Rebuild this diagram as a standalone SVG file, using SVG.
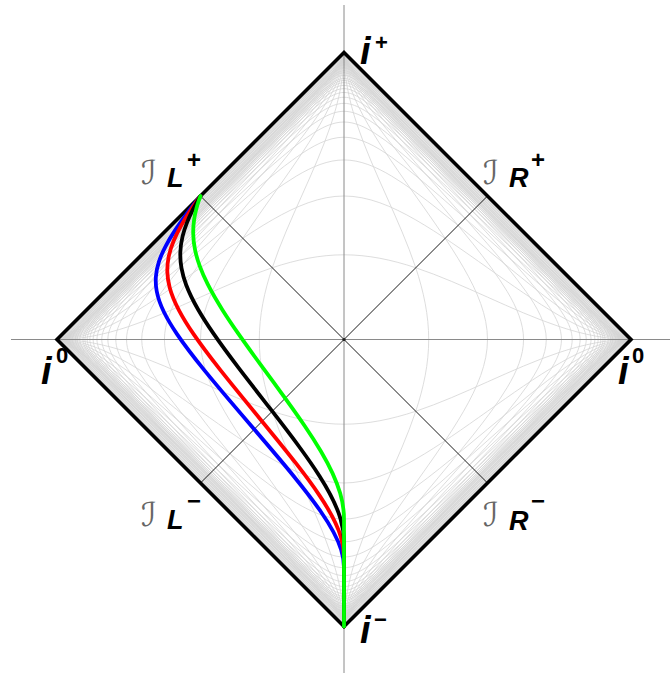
<svg xmlns="http://www.w3.org/2000/svg" xmlns:xlink="http://www.w3.org/1999/xlink" width="670" height="677" viewBox="0 0 670 677">
<style>
.axis{stroke:#8a8a8a;stroke-width:1;fill:none}
.diag{stroke:#1a1a1a;stroke-width:1;fill:none}
.frame{fill:none;stroke:#000;stroke-width:3.6;stroke-linejoin:miter}
.traj{fill:none;stroke-width:3.8;stroke-linecap:round;stroke-linejoin:round}
.lab{font-family:"Liberation Sans",Arial,sans-serif;font-weight:bold;font-style:italic;fill:#000}
.sup{font-family:"Liberation Sans",Arial,sans-serif;font-weight:bold;fill:#000}
.scri{font-family:"DejaVu Serif","DejaVu Sans",serif;font-style:italic;fill:#666}
</style>
<defs>
<g id="tq" fill="none" stroke="#d4d4d4" stroke-width="0.8">
<path d="M344,254.79 C367.92,254.79 391.83,259.78 415.75,267.75 C439.67,275.72 463.58,286.44 487.5,297.14 C511.42,307.84 535.33,318.57 559.25,326.54 C583.17,334.51 607.08,339.5 631,339.5"/>
<path d="M344,196 C367.92,196 391.83,206.11 415.75,219.92 C439.67,233.73 463.58,250.84 487.5,267.75 C511.42,284.66 535.33,301.77 559.25,315.58 C583.17,329.39 607.08,339.5 631,339.5"/>
<path d="M344,159.94 C359.94,159.94 375.89,166.64 391.83,176.21 C407.78,185.78 423.72,197.90 439.67,210.53 C455.61,223.16 471.56,236.45 487.5,249.72 C503.44,262.99 519.39,276.28 535.33,288.91 C551.28,301.54 567.22,313.65 583.17,323.22 C599.11,332.79 615.06,339.5 631,339.5"/>
<path d="M344,137.21 C359.94,137.21 375.89,146.14 391.83,157.41 C407.78,168.68 423.72,182.19 439.67,196 C455.61,209.81 471.56,224.10 487.5,238.36 C503.44,252.62 519.39,266.90 535.33,280.71 C551.28,294.52 567.22,308.04 583.17,319.31 C599.11,330.58 615.06,339.5 631,339.5"/>
<path d="M344,122.02 C354.63,122.02 365.26,126.99 375.89,133.90 C389.18,142.54 402.46,153.75 415.75,165.32 C439.67,186.14 463.58,208.55 487.5,230.76 C511.42,252.97 535.33,275.37 559.25,296.19 C572.54,307.76 585.82,318.99 599.11,327.62 C609.74,334.53 620.37,339.5 631,339.5"/>
<path d="M344,111.29 C351.97,111.29 359.95,114.62 367.92,119.51 C381.21,127.66 394.49,139.27 407.78,151.07 C434.35,174.66 460.93,200.18 487.5,225.39 C514.07,250.60 540.65,276.12 567.22,299.71 C580.51,311.51 593.79,323.11 607.08,331.26 C615.05,336.15 623.03,339.5 631,339.5"/>
<path d="M344,103.35 C350.91,103.35 357.82,106.29 364.73,110.56 C376.42,117.79 388.12,128.11 399.81,138.58 C429.04,164.74 458.27,193.31 487.5,221.42 C516.73,249.53 545.96,278.11 575.19,304.27 C586.88,314.74 598.58,325.06 610.27,332.29 C617.18,336.56 624.09,339.5 631,339.5"/>
<path d="M344,97.26 C350.38,97.26 356.75,100.13 363.13,104.21 C373.76,111.01 384.39,120.51 395.02,130.12 C425.85,158.0 456.67,188.47 487.5,218.38 C518.33,248.29 549.15,278.77 579.98,306.65 C590.61,316.26 601.24,325.76 611.87,332.56 C618.25,336.64 624.62,339.5 631,339.5"/>
<path d="M344,92.46 C349.85,92.46 355.69,95.15 361.54,98.96 C371.64,105.54 381.73,114.70 391.83,123.93 C423.72,153.07 455.61,184.85 487.5,215.98 C519.39,247.11 551.28,278.89 583.17,308.03 C593.27,317.26 603.36,326.41 613.46,332.99 C619.31,336.80 625.15,339.5 631,339.5"/>
<path d="M344,88.57 C349.32,88.57 354.63,91.06 359.94,94.54 C368.98,100.46 378.02,108.64 387.05,116.91 C420.53,147.55 454.02,181.20 487.5,214.03 C520.98,246.86 554.47,280.52 587.95,311.16 C596.99,319.43 606.03,327.61 615.06,333.53 C620.38,337.01 625.69,339.5 631,339.5"/>
<path d="M344,85.36 C349.48,85.36 354.95,88.29 360.43,92.17 C371.38,99.91 382.34,110.49 393.29,120.89 C424.69,150.68 456.10,181.53 487.5,212.43 C518.90,243.33 550.31,274.18 581.71,303.97 C592.66,314.37 603.62,324.95 614.57,332.69 C620.05,336.57 625.52,339.5 631,339.5"/>
<path d="M344,82.67 C349.03,82.67 354.06,85.37 359.09,88.92 C369.15,96.04 379.20,105.75 389.26,115.30 C422.01,146.37 454.75,178.79 487.5,211.09 C520.25,243.39 552.99,275.81 585.74,306.88 C595.80,316.42 605.86,326.14 615.91,333.25 C620.94,336.81 625.97,339.5 631,339.5"/>
<path d="M344,80.39 C348.65,80.39 353.30,82.88 357.95,86.17 C367.24,92.74 376.54,101.72 385.84,110.54 C419.72,142.69 453.61,176.45 487.5,209.95 C521.39,243.44 555.28,277.20 589.17,309.35 C598.46,318.17 607.76,327.15 617.06,333.72 C621.70,337.01 626.35,339.5 631,339.5"/>
<path d="M344,78.43 C348.32,78.43 352.64,80.74 356.96,83.80 C365.61,89.91 374.25,98.26 382.89,106.46 C417.76,139.54 452.63,174.44 487.5,208.96 C522.37,243.48 557.24,278.39 592.11,311.47 C600.75,319.67 609.40,328.02 618.04,334.13 C622.36,337.19 626.68,339.5 631,339.5"/>
<path d="M344,75.22 C347.79,75.22 351.57,77.25 355.36,79.93 C362.94,85.28 370.51,92.60 378.08,99.79 C414.56,134.39 451.03,171.17 487.5,207.36 C523.97,243.55 560.45,280.33 596.92,314.93 C604.49,322.12 612.07,329.44 619.64,334.79 C623.43,337.47 627.21,339.5 631,339.5"/>
<path d="M344,72.72 C347.37,72.72 350.74,74.52 354.11,76.91 C360.85,81.67 367.59,88.18 374.33,94.58 C412.05,130.37 449.78,168.62 487.5,206.11 C525.22,243.60 562.95,281.85 600.67,317.64 C607.41,324.04 614.15,330.55 620.89,335.31 C624.26,337.70 627.63,339.5 631,339.5"/>
<path d="M344,70.71 C347.04,70.71 350.07,72.34 353.11,74.48 C359.18,78.78 365.25,84.64 371.32,90.40 C410.05,127.14 448.77,166.57 487.5,205.11 C526.23,243.64 564.96,283.07 603.68,319.81 C609.75,325.57 615.82,331.44 621.89,335.73 C624.93,337.88 627.97,339.5 631,339.5"/>
<path d="M344,67.69 C346.53,67.69 349.06,69.05 351.60,70.84 C356.66,74.42 361.72,79.31 366.79,84.12 C407.03,122.29 447.26,163.50 487.5,203.60 C527.74,243.69 567.98,284.90 608.21,323.08 C613.28,327.88 618.34,332.77 623.40,336.35 C625.94,338.14 628.47,339.5 631,339.5"/>
<path d="M344,64.66 C346.03,64.66 348.05,65.75 350.08,67.18 C354.14,70.05 358.19,73.97 362.24,77.81 C403.99,117.42 445.75,160.42 487.5,202.08 C529.25,243.74 571.01,286.74 612.76,326.35 C616.81,330.20 620.87,334.12 624.92,336.98 C626.95,338.42 628.97,339.5 631,339.5"/>
<path d="M344,61.63 C345.52,61.63 347.04,62.44 348.56,63.52 C351.61,65.67 354.65,68.61 357.69,71.49 C400.96,112.54 444.23,157.35 487.5,200.56 C530.77,243.78 574.04,288.58 617.31,329.63 C620.35,332.52 623.40,335.46 626.44,337.61 C627.96,338.69 629.48,339.5 631,339.5"/>
<path d="M344,58.59 C345.02,58.59 346.03,59.13 347.04,59.85 C349.07,61.28 351.10,63.25 353.13,65.17 C397.92,107.66 442.71,154.28 487.5,199.04 C532.29,243.81 577.08,290.43 621.87,332.92 C623.90,334.84 625.93,336.80 627.96,338.24 C628.97,338.96 629.99,339.5 631,339.5"/>
</g>
<g id="tf">
<use xlink:href="#tq" href="#tq"/>
<use xlink:href="#tq" href="#tq" transform="matrix(-1 0 0 1 688 0)"/>
<use xlink:href="#tq" href="#tq" transform="matrix(1 0 0 -1 0 679)"/>
<use xlink:href="#tq" href="#tq" transform="matrix(-1 0 0 -1 688 679)"/>
</g>
</defs>
<rect width="670" height="677" fill="#fff"/>
<g id="grid">
<use xlink:href="#tf" href="#tf"/>
<use xlink:href="#tf" href="#tf" transform="matrix(0 -1 -1 0 683.5 683.5)"/>
</g>
<g id="axes">
<path class="axis" d="M11,339.5 H670 M344,5 V673"/>
<path class="diag" d="M200.5,196 L487.5,483 M487.5,196 L200.5,483"/>
<circle cx="344" cy="339.5" r="1.6" fill="#222"/>
</g>
<g id="frame">
<polygon class="frame" points="344,52.5 631,339.5 344,626.5 57,339.5"/>
</g>
<g id="worldlines">
<path class="traj" stroke="#0000ff" d="M344,626.5 L344,567.71 C344,563.14 343.62,557.74 341.15,549.76 C338.68,541.78 335.19,532.30 320.56,511.25 C314.71,502.83 306.75,492.24 295.15,477.93 C283.55,463.62 267.70,444.97 250.74,425.20 C233.78,405.43 216.96,385.75 204.47,370.35 C191.98,354.95 183.27,343.33 177.02,334.09 C170.77,324.85 166.82,317.90 163.93,311.98 C159.60,303.11 157.72,296.59 156.69,291.0 C155.66,285.41 155.58,280.79 155.89,276.62 C156.30,271.07 157.44,266.35 158.80,262.08 C160.85,255.68 163.43,250.32 165.95,245.57 C169.31,239.23 172.61,234.04 175.52,229.65 C179.88,223.07 183.37,218.30 186.12,214.59 C190.70,208.41 193.30,205.11 195.09,202.83 L200.5,196"/>
<path class="traj" stroke="#ff0000" d="M344,626.5 L344,556.98 C344,551.73 343.52,545.52 340.80,536.61 C338.08,527.70 333.82,516.79 319.61,495.58 C313.92,487.10 306.40,476.73 296.27,463.70 C286.14,450.67 273.10,434.72 259.28,417.92 C245.46,401.12 231.41,384.02 220.07,369.65 C208.73,355.28 199.98,343.51 193.43,333.92 C186.88,324.33 182.37,316.77 178.99,310.35 C173.92,300.73 171.28,293.60 169.66,287.53 C168.04,281.46 167.49,276.53 167.34,272.13 C167.14,266.26 167.75,261.41 168.61,257.09 C169.91,250.61 171.81,245.35 173.70,240.79 C176.22,234.71 178.76,229.90 181.01,225.88 C184.38,219.85 187.11,215.60 189.25,212.31 C192.82,206.83 194.85,203.96 196.25,201.96 L200.5,196"/>
<path class="traj" stroke="#000000" d="M344,626.5 L344,541.79 C344,535.70 343.43,528.48 340.48,518.61 C337.53,508.74 332.51,496.51 319.44,475.97 C314.21,467.75 307.55,458.12 299.22,446.75 C290.89,435.38 280.77,422.20 270.04,408.42 C259.31,394.64 248.17,380.45 238.42,367.67 C228.67,354.89 220.36,343.56 213.73,333.95 C207.10,324.34 202.05,316.37 198.10,309.51 C192.18,299.22 188.59,291.38 186.12,284.78 C183.65,278.18 182.33,272.86 181.49,268.18 C180.37,261.94 180.18,256.91 180.32,252.51 C180.53,245.92 181.50,240.77 182.56,236.39 C183.98,230.55 185.61,226.09 187.07,222.41 C189.27,216.89 191.14,213.13 192.61,210.22 C195.06,205.37 196.50,202.88 197.49,201.15 L200.5,196"/>
<path class="traj" stroke="#00ff00" d="M344,626.5 L344,519.06 C344,512.03 343.24,503.90 340.19,493.33 C337.14,482.76 331.83,469.76 320.88,451.24 C316.50,443.83 311.20,435.49 304.92,426.23 C298.64,416.97 291.36,406.75 283.62,396.10 C275.88,385.45 267.73,374.41 260.02,363.88 C252.31,353.35 245.11,343.36 238.85,334.39 C232.59,325.42 227.24,317.43 222.78,310.40 C216.09,299.85 211.32,291.37 207.70,284.21 C204.08,277.05 201.63,271.23 199.77,266.17 C197.29,259.43 195.89,254.07 194.97,249.48 C193.59,242.60 193.25,237.43 193.20,233.11 C193.13,227.35 193.60,223.13 194.10,219.69 C194.85,214.53 195.71,211.13 196.40,208.52 C197.56,204.17 198.34,202.01 198.86,200.49 L200.5,196"/>
</g>
<g id="labels">
<g id="label-iplus"><text class="lab" x="360" y="64" font-size="38">i</text><text class="sup" x="375" y="50" font-size="22">+</text></g>
<g id="label-i0-left"><text class="lab" x="41" y="384" font-size="38">i</text><text class="sup" x="56" y="363" font-size="22">0</text></g>
<g id="label-i0-right"><text class="lab" x="618" y="384" font-size="38">i</text><text class="sup" x="632" y="363" font-size="22">0</text></g>
<g id="label-iminus"><text class="lab" x="360" y="643" font-size="38">i</text><text class="sup" x="374" y="627" font-size="22">−</text></g>
<g id="label-scri-Lplus"><text class="scri" x="141" y="184" font-size="33">ℐ</text><text class="lab" x="167" y="187" font-size="27">L</text><text class="sup" x="187" y="168" font-size="24">+</text></g>
<g id="label-scri-Rplus"><text class="scri" x="483" y="184" font-size="33">ℐ</text><text class="lab" x="509" y="187" font-size="27">R</text><text class="sup" x="531" y="168" font-size="24">+</text></g>
<g id="label-scri-Lminus"><text class="scri" x="141" y="526" font-size="33">ℐ</text><text class="lab" x="167" y="529" font-size="27">L</text><text class="sup" x="187" y="509" font-size="24">−</text></g>
<g id="label-scri-Rminus"><text class="scri" x="483" y="526" font-size="33">ℐ</text><text class="lab" x="509" y="530" font-size="27">R</text><text class="sup" x="531" y="509" font-size="24">−</text></g>
</g>
</svg>
